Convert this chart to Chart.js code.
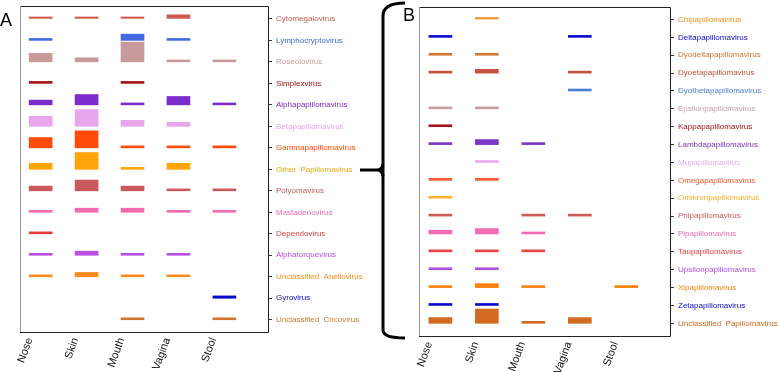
<!DOCTYPE html>
<html lang="en">
<head>
  <meta charset="UTF-8" />
  <title>Virus abundance by body site</title>
  <script src="https://cdn.jsdelivr.net/npm/chart.js"></script>
  <style>
    * { margin: 0; padding: 0; box-sizing: border-box; }
    body { width: 778px; height: 372px; background: #fff; position: relative; overflow: hidden;
      font-family: 'Liberation Sans', Arial, sans-serif; }
    .panel { position: absolute; top: 0; height: 372px; }
    #panelA { left: 0; width: 380px; }
    #panelB { left: 398px; width: 380px; }
    .tag { position: absolute; font-size: 18px; line-height: 18px; color: #000; }
    #brace { position: absolute; left: 0; top: 0; }
  </style>
</head>
<body>
<div class="panel" id="panelA"><canvas id="chartA" width="380" height="372"></canvas></div>
<div class="panel" id="panelB"><canvas id="chartB" width="380" height="372"></canvas></div>
<div class="tag" style="left:0px; top:11px;">A</div>
<div class="tag" style="left:403px; top:6px;">B</div>
<svg id="brace" width="778" height="372">
  <path d="M405 3 Q383 3 383 16 L383 330 Q383 338 405 338" fill="none" stroke="#000" stroke-width="3"/>
  <path d="M360 170 L377 170 Q382 170 383 164 M377 170 Q382 170 383 176" fill="none" stroke="#000" stroke-width="3"/>
</svg>

<script>
const sites = ["Nose", "Skin", "Mouth", "Vagina", "Stool"];

// panel A: viral genera, bar height as fraction of the row
const rowsA = ["Cytomegalovirus", "Lymphocryptovirus", "Roseolovirus", "Simplexvirus",
  "Alphapapillomavirus", "Betapapillomavirus", "Gammapapillomavirus", "Other  Papillomavirus",
  "Polyomavirus", "Mastadenovirus", "Dependovirus", "Alphatorquevirus",
  "Unclassified  Anellovirus", "Gyrovirus", "Unclassified  Circovirus"];
const colorsA = ["#cf5a4c", "#4169e1", "#c99a9c", "#a51212", "#7b2ccc", "#e8a6ec", "#ff4a0a",
  "#ffa50a", "#c85a5c", "#f26bb0", "#e63c3c", "#b84ee4", "#ff8a1c", "#0a0acc", "#d2762e"];
const valuesA = [
  [0.09, 0.09, 0.09, 0.19, 0],
  [0.09, 0, 0.29, 0.09, 0],
  [0.40, 0.19, 0.92, 0.09, 0.09],
  [0.09, 0, 0.09, 0, 0],
  [0.22, 0.48, 0.09, 0.39, 0.09],
  [0.47, 0.78, 0.28, 0.19, 0],
  [0.48, 0.79, 0.09, 0.09, 0.09],
  [0.28, 0.78, 0.09, 0.28, 0],
  [0.22, 0.50, 0.22, 0.09, 0.09],
  [0.09, 0.19, 0.19, 0.09, 0.09],
  [0.09, 0, 0, 0, 0],
  [0.09, 0.19, 0.09, 0.09, 0],
  [0.09, 0.20, 0.09, 0.09, 0],
  [0, 0, 0, 0, 0.11],
  [0, 0, 0.09, 0, 0.09]
];

// panel B: papillomavirus genera
const rowsB = ["Chipapillomavirus", "Deltapapillomavirus", "Dyodeltapapillomavirus",
  "Dyoetapapillomavirus", "Dyothetapapillomavirus", "Epsilonpapillomavirus",
  "Kappapapillomavirus", "Lambdapapillomavirus", "Mupapillomavirus", "Omegapapillomavirus",
  "Omikronpapillomavirus", "Phipapillomavirus", "Pipapillomavirus", "Taupapillomavirus",
  "Upsilonpapillomavirus", "Xipapillomavirus", "Zetapapillomavirus", "Unclassified  Papillomavirus"];
const colorsB = ["#f7901e", "#0a0acc", "#d2782e", "#c8503e", "#4a7fd6", "#c4a0a2", "#a51414",
  "#7b35c8", "#eaaaf0", "#ef5a2c", "#ffae2e", "#d05a5a", "#f26bb4", "#e84242", "#b450e0",
  "#ff800a", "#0a0acc", "#d26a20"];
const valuesB = [
  [0, 0.11, 0, 0, 0],
  [0.11, 0, 0, 0.11, 0],
  [0.11, 0.11, 0, 0, 0],
  [0.11, 0.21, 0, 0.11, 0],
  [0, 0, 0, 0.11, 0],
  [0.11, 0.11, 0, 0, 0],
  [0.11, 0, 0, 0, 0],
  [0.11, 0.28, 0.11, 0, 0],
  [0, 0.11, 0, 0, 0],
  [0.11, 0.11, 0, 0, 0],
  [0.11, 0, 0, 0, 0],
  [0.11, 0, 0.11, 0.11, 0],
  [0.21, 0.30, 0.11, 0, 0],
  [0.11, 0.11, 0.11, 0, 0],
  [0.11, 0.11, 0, 0, 0],
  [0.11, 0.22, 0.11, 0, 0.11],
  [0.11, 0.11, 0, 0, 0],
  [0.32, 0.80, 0.11, 0.32, 0]
];

// box around the plot area
const frame = {
  id: "frame",
  afterDraw(chart) {
    const { ctx, chartArea: a } = chart;
    ctx.save();
    ctx.lineWidth = 1;
    ctx.strokeStyle = "#222";
    ctx.beginPath();
    ctx.moveTo(a.left, a.top + 0.5); ctx.lineTo(a.right + 0.5, a.top + 0.5);
    ctx.lineTo(a.right + 0.5, a.bottom + 0.5); ctx.lineTo(a.left, a.bottom + 0.5);
    ctx.stroke();
    ctx.strokeStyle = "#999";
    ctx.beginPath();
    ctx.moveTo(a.left + 0.5, a.top); ctx.lineTo(a.left + 0.5, a.bottom);
    ctx.stroke();
    ctx.restore();
  }
};

function makeDatasets(rows, colors, values) {
  return rows.map((name, r) => ({
    label: name,
    backgroundColor: colors[r],
    data: values[r]
      .map((v, i) => ({ x: i, y: [r, r - v] }))
      .filter((d, i) => values[r][i] > 0)
  }));
}

function makeChart(id, rows, colors, values, lay) {
  new Chart(document.getElementById(id), {
    type: "bar",
    data: { datasets: makeDatasets(rows, colors, values) },
    plugins: [frame],
    options: {
      responsive: false,
      animation: false,
      layout: { padding: { left: lay.left, top: lay.top, right: 0, bottom: 0 } },
      datasets: { bar: { grouped: false, barThickness: 23, borderWidth: 0 } },
      plugins: { legend: { display: false }, tooltip: { enabled: false } },
      scales: {
        x: {
          type: "linear", offset: false, min: lay.xMin, max: lay.xMax,
          grid: { display: false, drawTicks: false },
          border: { display: false },
          afterBuildTicks: s => { s.ticks = sites.map((n, i) => ({ value: i })); },
          afterFit: s => { s.height = lay.xH; s.paddingLeft = 0; s.paddingRight = 0; },
          ticks: {
            autoSkip: false, minRotation: 70, maxRotation: 70, padding: 4, labelOffset: -11,
            color: "#111", font: { family: "Liberation Sans", size: 11 },
            callback: v => sites[v]
          }
        },
        y: {
          type: "linear", position: "right", reverse: true, min: lay.yMin, max: lay.yMax,
          grid: { drawOnChartArea: false, tickLength: 4, color: "#333" },
          border: { display: false },
          afterBuildTicks: s => { s.ticks = rows.map((n, i) => ({ value: i })); },
          afterFit: s => { s.width = lay.yW; s.paddingTop = 0; s.paddingBottom = 0; },
          ticks: {
            autoSkip: false, padding: 4,
            font: { family: "Liberation Sans", size: 8 },
            color: ctx => colors[ctx.index],
            callback: v => rows[v]
          }
        }
      }
    }
  });
}

makeChart("chartA", rowsA, colorsA, valuesA,
  { left: 20, top: 6, xH: 40, yW: 112, xMin: -0.45, xMax: 4.95, yMin: -0.6, yMax: 14.57 });
makeChart("chartB", rowsB, colorsB, valuesB,
  { left: 21, top: 7, xH: 36, yW: 108, xMin: -0.46, xMax: 4.94, yMin: -0.7, yMax: 17.71 });
</script>
</body>
</html>
